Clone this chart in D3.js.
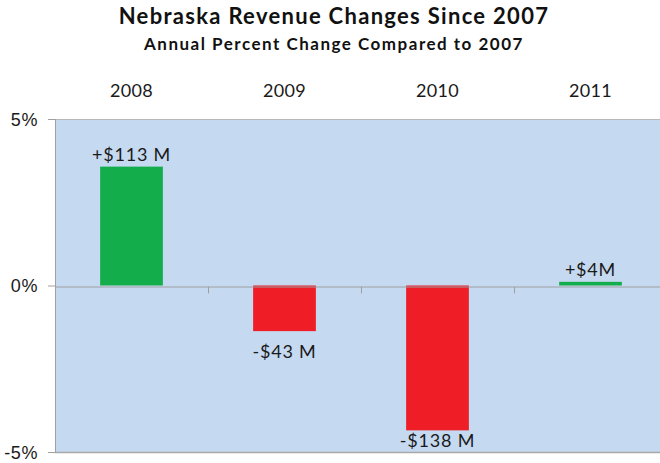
<!DOCTYPE html>
<html>
<title>Nebraska Revenue Changes Since 2007</title>
<style>
  body {
    margin: 0px;
    background: white;
  }
  svg {
    display: block;
    font-family: Lato, "Open Sans", sans-serif;
  }
  .axis path, .axis line {
    stroke: #a0a0a0;
  }
</style>
<script src="https://cdn.jsdelivr.net/npm/d3@7"></script>
<body>
<svg></svg>
<script>

const years = ["2008", "2009", "2010", "2011"];
const changes = [3.57, -1.37, -4.35, 0.11];
const labels = ["+$113 M", "-$43 M", "-$138 M", "+$4M"];
const yTicks = [-5, 0, 5];

const width = 660, height = 463;
const plotLeft = 55, plotRight = 667, plotTop = 119, plotBottom = 452;

const svg = d3.select("svg")
    .attr("width", width)
    .attr("height", height);

// scales
const x = d3.scaleBand()
    .domain(years)
    .range([plotLeft, plotRight])
    .paddingInner(0.59)
    .paddingOuter(0.295);

const y = d3.scaleLinear()
    .domain([-5, 5])
    .range([plotBottom, plotTop]);

// plot background
svg.append("rect")
    .attr("x", plotLeft)
    .attr("y", plotTop)
    .attr("width", plotRight - plotLeft)
    .attr("height", plotBottom - plotTop)
    .style("fill", "#c5d9f1");

svg.append("line")
    .attr("x1", plotLeft).attr("x2", plotRight)
    .attr("y1", plotTop + 0.5).attr("y2", plotTop + 0.5)
    .style("stroke", "#b8b8b8");

svg.append("line")
    .attr("x1", plotLeft).attr("x2", plotRight)
    .attr("y1", plotBottom + 0.5).attr("y2", plotBottom + 0.5)
    .style("stroke", "#a8a8a8")
    .style("stroke-width", 1.5);

// bars
svg.append("g")
  .selectAll("rect")
  .data(changes)
  .join("rect")
    .attr("x", (d, i) => x(years[i]))
    .attr("width", x.bandwidth())
    .attr("y", d => y(Math.max(0, d)))
    .attr("height", d => Math.abs(y(d) - y(0)))
    .style("fill", d => d >= 0 ? "#13ae4b" : "#ee1d26");

// y axis
const yAxis = svg.append("g")
    .attr("class", "axis")
    .attr("transform", `translate(${plotLeft},0)`)
    .call(d3.axisLeft(y)
      .tickValues(yTicks)
      .tickSize(7)
      .tickPadding(10)
      .tickFormat(d => d + "%"));
yAxis.selectAll("text")
    .style("font-size", "18px")
    .style("letter-spacing", "0.6px")
    .style("fill", "#1a1a1a")
    .attr("dy", "0.36em");

// zero line with category dividers
const xAxis = svg.append("g")
    .attr("class", "axis")
    .attr("transform", `translate(0,${Math.round(y(0)) + 0.5})`)
    .call(d3.axisBottom(x)
      .tickValues([])
      .tickSizeOuter(0));
xAxis.selectAll(".divider")
  .data(years.slice(1))
  .join("line")
    .attr("class", "divider")
    .attr("x1", d => Math.round(x(d) - x.step() * x.paddingInner() / 2) + 0.5)
    .attr("x2", d => Math.round(x(d) - x.step() * x.paddingInner() / 2) + 0.5)
    .attr("y1", 0)
    .attr("y2", 7);

// value labels, kept inside the plot like excel does
svg.append("g")
  .selectAll("text")
  .data(changes)
  .join("text")
    .attr("x", (d, i) => x(years[i]) + x.bandwidth() / 2)
    .attr("y", d => d >= 0 ? y(d) - 6 : Math.min(y(d) + 27, plotBottom - 5))
    .attr("text-anchor", "middle")
    .style("font-size", "18px")
    .style("letter-spacing", "0.8px")
    .style("fill", "#1a1a1a")
    .text((d, i) => labels[i]);

// year headings above the plot
svg.append("g")
  .selectAll("text")
  .data(years)
  .join("text")
    .attr("x", d => x(d) + x.bandwidth() / 2)
    .attr("y", 97)
    .attr("text-anchor", "middle")
    .style("font-size", "18px")
    .style("letter-spacing", "0.3px")
    .style("fill", "#1a1a1a")
    .text(d => d);

// titles
svg.append("text")
    .attr("x", 334)
    .attr("y", 24)
    .attr("text-anchor", "middle")
    .style("font-size", "22px")
    .style("letter-spacing", "1.3px")
    .style("font-weight", "bold")
    .style("fill", "#111")
    .text("Nebraska Revenue Changes Since 2007");

svg.append("text")
    .attr("x", 334)
    .attr("y", 50)
    .attr("text-anchor", "middle")
    .style("font-size", "17px")
    .style("letter-spacing", "1.5px")
    .style("font-weight", "bold")
    .style("fill", "#111")
    .text("Annual Percent Change Compared to 2007");
</script>
</body>
</html>
